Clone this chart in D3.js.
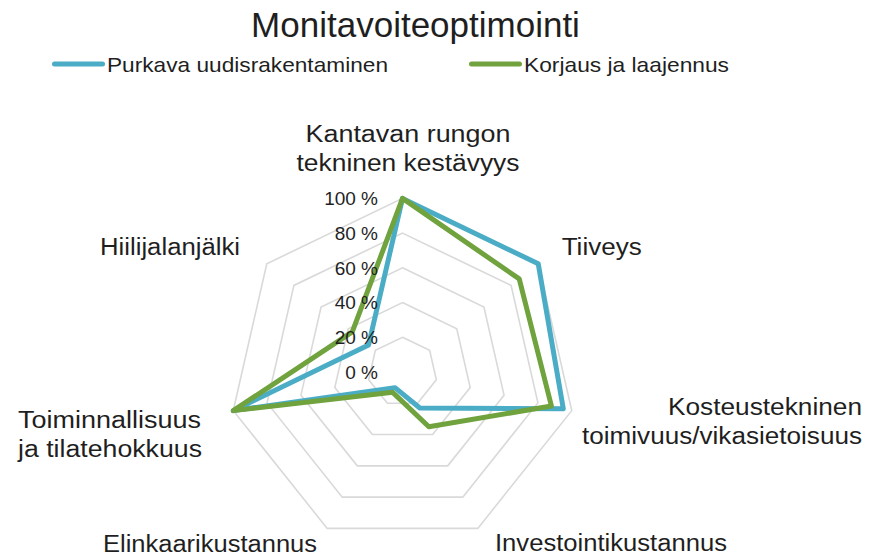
<!DOCTYPE html>
<html>
<head>
<meta charset="utf-8">
<script src="https://cdn.jsdelivr.net/npm/d3@7"></script>
<style>
  html, body { margin: 0; padding: 0; background: #ffffff; }
  svg { display: block; }
  text { font-family: "Liberation Sans", Arial, sans-serif; fill: #1f1f1f; }
</style>
</head>
<body>
<svg id="chart" width="869" height="558"></svg>
<script>
// ---- data ----
const title = "Monitavoiteoptimointi";
const categories = [
  ["Kantavan rungon", "tekninen kestävyys"],
  ["Tiiveys"],
  ["Kosteustekninen", "toimivuus/vikasietoisuus"],
  ["Investointikustannus"],
  ["Elinkaarikustannus"],
  ["Toiminnallisuus", "ja tilatehokkuus"],
  ["Hiilijalanjälki"]
];
const seriesNames = ["Purkava uudisrakentaminen", "Korjaus ja laajennus"];
const purkavaValues = [100, 100, 95, 23, 10, 100, 25];
const korjausValues = [100, 86, 88, 35, 13, 100, 37];
const tickValues = [0, 20, 40, 60, 80, 100];
const tickLabels = ["0 %", "20 %", "40 %", "60 %", "80 %", "100 %"];

// ---- layout / style ----
const colors = ["#4BACC6", "#70A23E"];
const cx = 402.5, cy = 372, R = 173.6;
// label layout: x, first baseline y, anchor, widths of each line
const labelLayout = [
  { x: 408, y: 141.7, anchor: "middle", widths: [205, 223] },
  { x: 561.7, y: 255, anchor: "start", widths: [80] },
  { x: 862, y: 415, anchor: "end", widths: [194, 280] },
  { x: 495, y: 551, anchor: "start", widths: [232] },
  { x: 103, y: 551.5, anchor: "start", widths: [214] },
  { x: 18, y: 428.3, anchor: "start", widths: [183, 184] },
  { x: 100, y: 255, anchor: "start", widths: [140] }
];
const lineHeight = 29;

const svg = d3.select("#chart");
const n = categories.length;
const r = d3.scaleLinear().domain([0, 100]).range([0, R]);
const angle = d3.scaleLinear().domain([0, n]).range([0, 2 * Math.PI]);
const idx = d3.range(n);

const g = svg.append("g").attr("transform", `translate(${cx},${cy})`);

// grid rings
const ringLine = d3.lineRadial()
  .angle(d => angle(d.i))
  .radius(d => r(d.v))
  .curve(d3.curveLinearClosed);

tickValues.filter(v => v > 0).forEach(v => {
  g.append("path")
    .attr("d", ringLine(idx.map(i => ({ i, v }))))
    .attr("fill", "none")
    .attr("stroke", "#D9D9D9")
    .attr("stroke-width", 1.6);
});

// series
[purkavaValues, korjausValues].forEach((vals, s) => {
  g.append("path")
    .attr("d", ringLine(vals.map((v, i) => ({ i, v }))))
    .attr("fill", "none")
    .attr("stroke", colors[s])
    .attr("stroke-width", 5)
    .attr("stroke-linejoin", "round");
});

// tick labels
tickValues.forEach((v, k) => {
  g.append("text")
    .attr("x", -24.5)
    .attr("y", -r(v))
    .attr("dy", "0.36em")
    .attr("text-anchor", "end")
    .style("font-size", "19px")
    .text(tickLabels[k]);
});

// category labels
categories.forEach((lines, i) => {
  const L = labelLayout[i];
  const t = svg.append("text")
    .attr("text-anchor", L.anchor)
    .style("font-size", "23px");
  lines.forEach((line, j) => {
    t.append("tspan")
      .attr("x", L.x)
      .attr("y", L.y + j * lineHeight)
      .attr("textLength", L.widths[j])
      .attr("lengthAdjust", "spacingAndGlyphs")
      .text(line);
  });
});

// title
svg.append("text")
  .attr("x", 415.5)
  .attr("y", 36.7)
  .attr("text-anchor", "middle")
  .style("font-size", "35px")
  .text(title);

// legend
const legendLayout = [
  { x1: 52, x2: 105, tx: 107, w: 281 },
  { x1: 469, x2: 522, tx: 524, w: 205 }
];
seriesNames.forEach((name, s) => {
  const L = legendLayout[s];
  svg.append("line")
    .attr("x1", L.x1 + 2.5).attr("x2", L.x2 - 2.5)
    .attr("y1", 64).attr("y2", 64)
    .attr("stroke", colors[s])
    .attr("stroke-width", 5)
    .attr("stroke-linecap", "round");
  svg.append("text")
    .attr("x", L.tx)
    .attr("y", 71.7)
    .attr("textLength", L.w)
    .attr("lengthAdjust", "spacingAndGlyphs")
    .style("font-size", "21px")
    .text(name);
});
</script>
</body>
</html>
